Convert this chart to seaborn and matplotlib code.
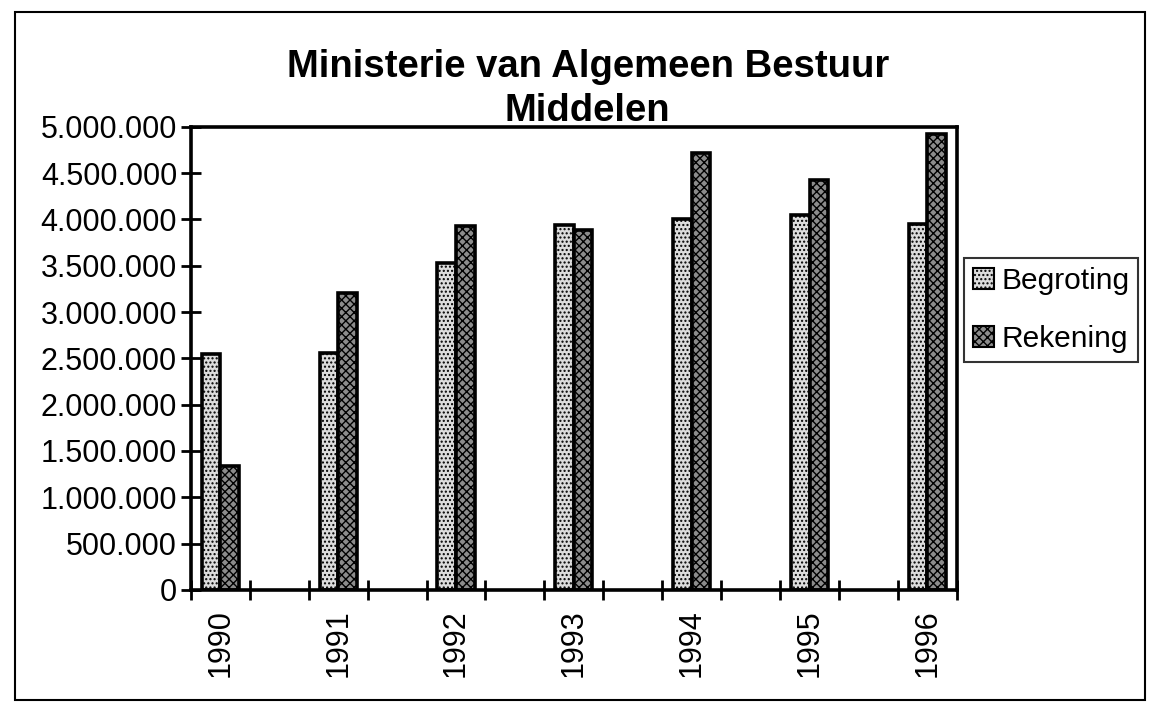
import numpy as np
import pandas as pd
import matplotlib
matplotlib.use("Agg")
import matplotlib.pyplot as plt
import seaborn as sns
from matplotlib.patches import Patch, Rectangle
from matplotlib.ticker import FuncFormatter

years = ["1990", "1991", "1992", "1993", "1994", "1995", "1996"]
begroting = [2550000, 2560000, 3530000, 3940000, 4000000, 4050000, 3950000]
rekening = [1340000, 3210000, 3930000, 3880000, 4720000, 4430000, 4920000]
series = ["Begroting", "Rekening"]

# Excel-achtige as: een lege categorie tussen elk jaar
order = []
for i, y in enumerate(years):
    order.append(y)
    if i < len(years) - 1:
        order.append("_leeg%d" % i)

df = pd.DataFrame({
    "jaar": years * 2,
    "serie": ["Begroting"] * len(years) + ["Rekening"] * len(years),
    "waarde": begroting + rekening,
})

sns.set_style("white")
plt.rcParams["font.family"] = ["Liberation Sans", "DejaVu Sans"]
plt.rcParams["text.color"] = "black"
plt.rcParams["xtick.color"] = "black"
plt.rcParams["ytick.color"] = "black"

fig = plt.figure(figsize=(11.5, 7.04), dpi=100)
ax = fig.add_axes([0.166, 0.162, 0.666, 0.658])

sns.barplot(data=df, x="jaar", y="waarde", hue="serie", order=order,
            hue_order=series, width=0.63, gap=0, errorbar=None,
            legend=False, ax=ax)

faces = {"Begroting": "#dcdcdc", "Rekening": "#8c8c8c"}
hatches = {"Begroting": "....", "Rekening": "xxxx"}
for cont, s in zip(ax.containers, series):
    for bar in cont:
        bar.set_facecolor(faces[s])
        bar.set_edgecolor("black")
        bar.set_linewidth(2.6)
        bar.set_hatch(hatches[s])

ax.set_ylim(0, 5000000)
ax.set_xlim(-0.5, len(order) - 0.5)
ax.set_yticks(np.arange(0, 5000001, 500000))
ax.yaxis.set_major_formatter(FuncFormatter(lambda v, p: "{:,.0f}".format(v).replace(",", ".")))

ax.set_xticks(np.arange(0, len(order), 2))
ax.set_xticklabels(years, rotation=90)
ax.set_xticks(np.arange(-0.5, len(order), 1), minor=True)
ax.tick_params(axis="x", which="major", bottom=True, length=0, pad=14, labelsize=22)
ax.tick_params(axis="x", which="minor", bottom=True, length=14, width=2, direction="inout")
ax.tick_params(axis="y", left=True, length=14, width=2, direction="inout", labelsize=22, pad=3)
ax.set_xlabel("")
ax.set_ylabel("")

for sp in ax.spines.values():
    sp.set_visible(True)
    sp.set_linewidth(2.6)
    sp.set_color("black")

fig.text(0.511, 0.905, "Ministerie van Algemeen Bestuur", ha="center", va="center",
         fontsize=27.5, fontweight="bold")
fig.text(0.511, 0.843, "Middelen", ha="center", va="center",
         fontsize=27.5, fontweight="bold")

handles = [Patch(facecolor=faces[s], edgecolor="black", hatch=hatches[s], linewidth=1.5, label=s)
           for s in series]
leg = fig.legend(handles=handles, loc="upper left", bbox_to_anchor=(0.838, 0.633),
                 fontsize=21.5, frameon=True, fancybox=False, handlelength=0.7,
                 handleheight=0.7, handletextpad=0.25, borderpad=0.3, labelspacing=1.0,
                 borderaxespad=0)
leg.get_frame().set_edgecolor("black")
leg.get_frame().set_linewidth(1.5)

fig.add_artist(Rectangle((0.013, 0.006), 0.983, 0.977, transform=fig.transFigure,
                         fill=False, edgecolor="black", linewidth=1.5))

fig.savefig("out.png", dpi=100)
